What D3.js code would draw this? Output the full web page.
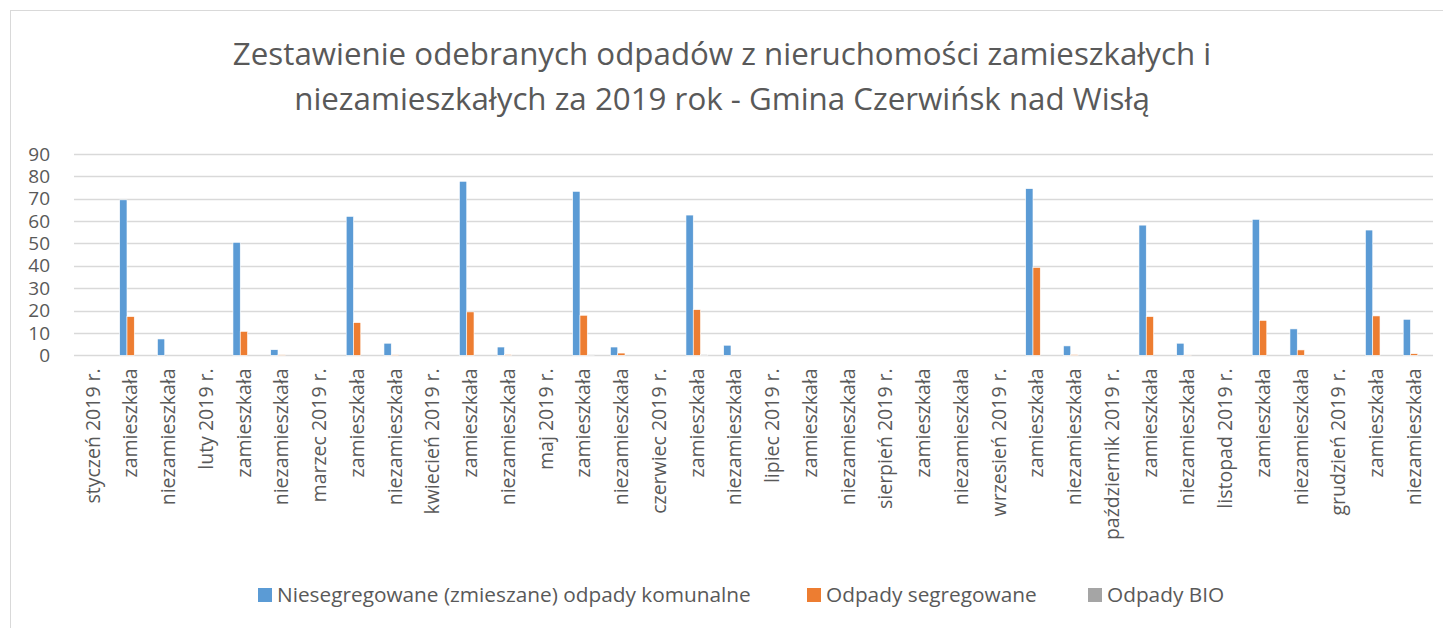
<!DOCTYPE html>
<html>
<head>
<meta charset="utf-8">
<script src="https://cdn.jsdelivr.net/npm/d3@7"></script>
<style>
  body { margin: 0; background: #fff; }
  svg { display: block; }
</style>
</head>
<body>
<div id="chart"></div>
<script>
// dane
var months = ["styczeń", "luty", "marzec", "kwiecień", "maj", "czerwiec",
              "lipiec", "sierpień", "wrzesień", "październik", "listopad", "grudzień"]
var categories = []
months.forEach(function(m){
  categories.push(m + " 2019 r.", "zamieszkała", "niezamieszkała")
})
var seriesNames = ["Niesegregowane (zmieszane) odpady komunalne", "Odpady segregowane", "Odpady BIO"]
var niesegregowane = [0, 69.5, 7.3,  0, 50.5, 2.5,  0, 62.1, 5.4,  0, 77.8, 3.7,
                      0, 73.3, 3.7,  0, 62.7, 4.5,  0, 0, 0,  0, 0, 0,
                      0, 74.5, 4.2,  0, 58.2, 5.4,  0, 60.8, 11.8,  0, 56.0, 16.1]
var segregowane = [0, 17.3, 0,  0, 10.7, 0.2,  0, 14.6, 0.2,  0, 19.4, 0.3,
                   0, 17.9, 1.0,  0, 20.4, 0,  0, 0, 0,  0, 0, 0,
                   0, 39.3, 0.3,  0, 17.3, 0.1,  0, 15.6, 2.4,  0, 17.6, 0.7]
var bio = [0, 0, 0,  0, 0, 0,  0, 0, 0,  0, 0, 0,
           0, 0.2, 0,  0, 0.3, 0,  0, 0, 0,  0, 0, 0,
           0, 0, 0,  0, 0, 0,  0, 0, 0,  0, 0, 0]
var yTicks = [0, 10, 20, 30, 40, 50, 60, 70, 80, 90]
var colors = ["#5b9bd5", "#ed7d31", "#a5a5a5"]

var W = 1443, H = 628
var margin = {top: 154, left: 74},
    width = 1433 - margin.left,
    height = 355.3 - margin.top

var svg = d3.select("#chart").append("svg")
    .attr("width", W)
    .attr("height", H)

// ramka
svg.append("rect")
    .attr("x", 10.5).attr("y", 10.5)
    .attr("width", W + 10).attr("height", H + 10)
    .attr("fill", "none")
    .attr("stroke", "#d9d9d9")

// tytuł
var title = svg.append("text")
    .attr("text-anchor", "middle")
    .attr("font-family", "Open Sans")
    .attr("font-size", 31.3)
    .attr("fill", "#595959")
title.append("tspan").attr("x", 722).attr("y", 65)
    .text("Zestawienie odebranych odpadów z nieruchomości zamieszkałych i")
title.append("tspan").attr("x", 722).attr("y", 110)
    .text("niezamieszkałych za 2019 rok - Gmina Czerwińsk nad Wisłą")

var g = svg.append("g")
    .attr("transform", "translate(" + margin.left + "," + margin.top + ")")

var x = d3.scaleBand()
    .domain(d3.range(categories.length))
    .range([0, width])

var y = d3.scaleLinear()
    .domain([0, 90])
    .range([height, 0])

// siatka
g.append("g")
  .selectAll("line")
  .data(yTicks)
  .enter().append("line")
    .attr("x1", 0).attr("x2", width)
    .attr("y1", function(d){ return Math.round(y(d)) + 0.5 })
    .attr("y2", function(d){ return Math.round(y(d)) + 0.5 })
    .attr("stroke", "#d9d9d9")
    .attr("stroke-width", 1.5)

// oś Y
var yAxis = g.append("g")
    .call(d3.axisLeft(y).tickValues(yTicks).tickSize(0).tickPadding(24))
yAxis.select(".domain").remove()
yAxis.selectAll("text")
    .attr("font-family", "Open Sans")
    .attr("font-size", 19)
    .attr("fill", "#595959")

// oś X
var xAxis = g.append("g")
    .attr("transform", "translate(0," + height + ")")
    .call(d3.axisBottom(x).tickSize(0).tickFormat(function(i){ return categories[i] }))
xAxis.select(".domain").remove()
xAxis.selectAll("text")
    .attr("font-family", "Open Sans")
    .attr("font-size", 19.5)
    .attr("fill", "#595959")
    .attr("transform", "rotate(-90)")
    .attr("text-anchor", "end")
    .attr("x", -13)
    .attr("y", 0)
    .attr("dy", "0.35em")

// słupki
var seriesData = [niesegregowane, segregowane, bio]
var groupW = x.bandwidth() * 3 / 5.19
var inner = d3.scaleBand()
    .domain([0, 1, 2])
    .range([0, groupW])
var offset = (x.bandwidth() - groupW) / 2

seriesData.forEach(function(vals, s){
  g.append("g")
      .attr("fill", colors[s])
    .selectAll("rect")
    .data(vals)
    .enter().append("rect")
      .attr("x", function(d, i){ return x(i) + offset + inner(s) })
      .attr("y", function(d){ return y(d) })
      .attr("width", inner.bandwidth())
      .attr("height", function(d){ return height - y(d) })
      .attr("stroke", "#fff")
      .attr("stroke-width", 0.6)
})

// legenda
var legendX = [258, 807, 1088]
var legend = svg.append("g")
  .selectAll("g")
  .data(seriesNames)
  .enter().append("g")
    .attr("transform", function(d, i){ return "translate(" + legendX[i] + ",588)" })
legend.append("rect")
    .attr("width", 14).attr("height", 14)
    .attr("fill", function(d, i){ return colors[i] })
legend.append("text")
    .attr("x", 19)
    .attr("y", 7)
    .attr("dy", "0.35em")
    .attr("font-family", "Open Sans")
    .attr("font-size", 20.8)
    .attr("fill", "#595959")
    .text(function(d){ return d })
</script>
</body>
</html>
